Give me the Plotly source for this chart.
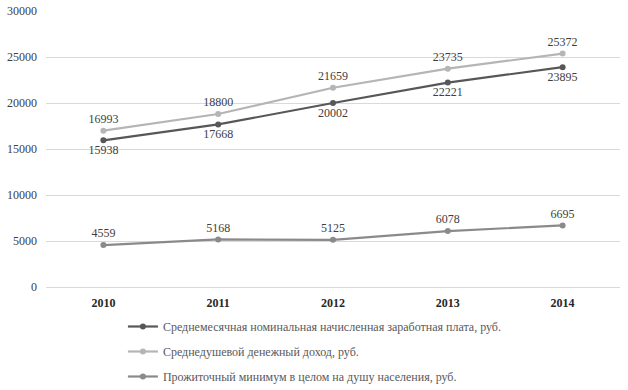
import plotly.graph_objects as go

years = ["2010", "2011", "2012", "2013", "2014"]
wage = [15938, 17668, 20002, 22221, 23895]
income = [16993, 18800, 21659, 23735, 25372]
minimum = [4559, 5168, 5125, 6078, 6695]

names = [
    "Среднемесячная номинальная начисленная заработная плата, руб.",
    "Среднедушевой денежный доход, руб.",
    "Прожиточный минимум в целом на душу населения, руб.",
]
y_ticks = [0, 5000, 10000, 15000, 20000, 25000, 30000]

FONT = "Liberation Serif"
FS = 12

fig = go.Figure()
series = [
    (wage, "#575757", "bottom center", names[0]),
    (income, "#b5b5b5", "top center", names[1]),
    (minimum, "#8a8a8a", "top center", names[2]),
]
for i, (vals, col, tpos, nm) in enumerate(series):
    fig.add_trace(go.Scatter(
        x=years, y=vals, name=nm, mode="lines+markers+text",
        line=dict(color=col, width=2.2),
        marker=dict(color=col, size=6),
        text=[str(v) for v in vals], textposition=tpos,
        textfont=dict(family=FONT, size=FS, color="#404040"),
        legendgroup=f"g{i}", hoverinfo="skip",
    ))

fig.update_layout(
    width=628, height=390,
    margin=dict(l=46, r=8, t=11, b=103, autoexpand=False),
    plot_bgcolor="white", paper_bgcolor="white",
    font=dict(family=FONT, size=FS, color="#404040"),
    showlegend=True,
    legend=dict(
        orientation="v", x=0.134, xanchor="left",
        yref="container", y=0.200, yanchor="top",
        font=dict(family=FONT, size=FS, color="#595959"),
        tracegroupgap=6, itemwidth=30,
        bgcolor="rgba(0,0,0,0)",
    ),
    xaxis=dict(
        type="category", range=[-0.5, 4.5], showgrid=False,
        showline=False, ticks="", ticklabelstandoff=7,
        tickfont=dict(family=FONT, size=FS, color="#262626", weight="bold"),
    ),
    yaxis=dict(
        range=[0, 30000], tickvals=y_ticks,
        ticktext=[str(v) for v in y_ticks],
        showgrid=True, gridcolor="#d9d9d9", gridwidth=1,
        zeroline=True, zerolinecolor="#d9d9d9", zerolinewidth=1,
        showline=False, ticks="", ticklabelstandoff=8,
        tickfont=dict(family=FONT, size=FS, color="#404040"),
    ),
)

fig.write_html("out.html", config={"displayModeBar": False},
               post_script="document.body.style.margin='0';")
